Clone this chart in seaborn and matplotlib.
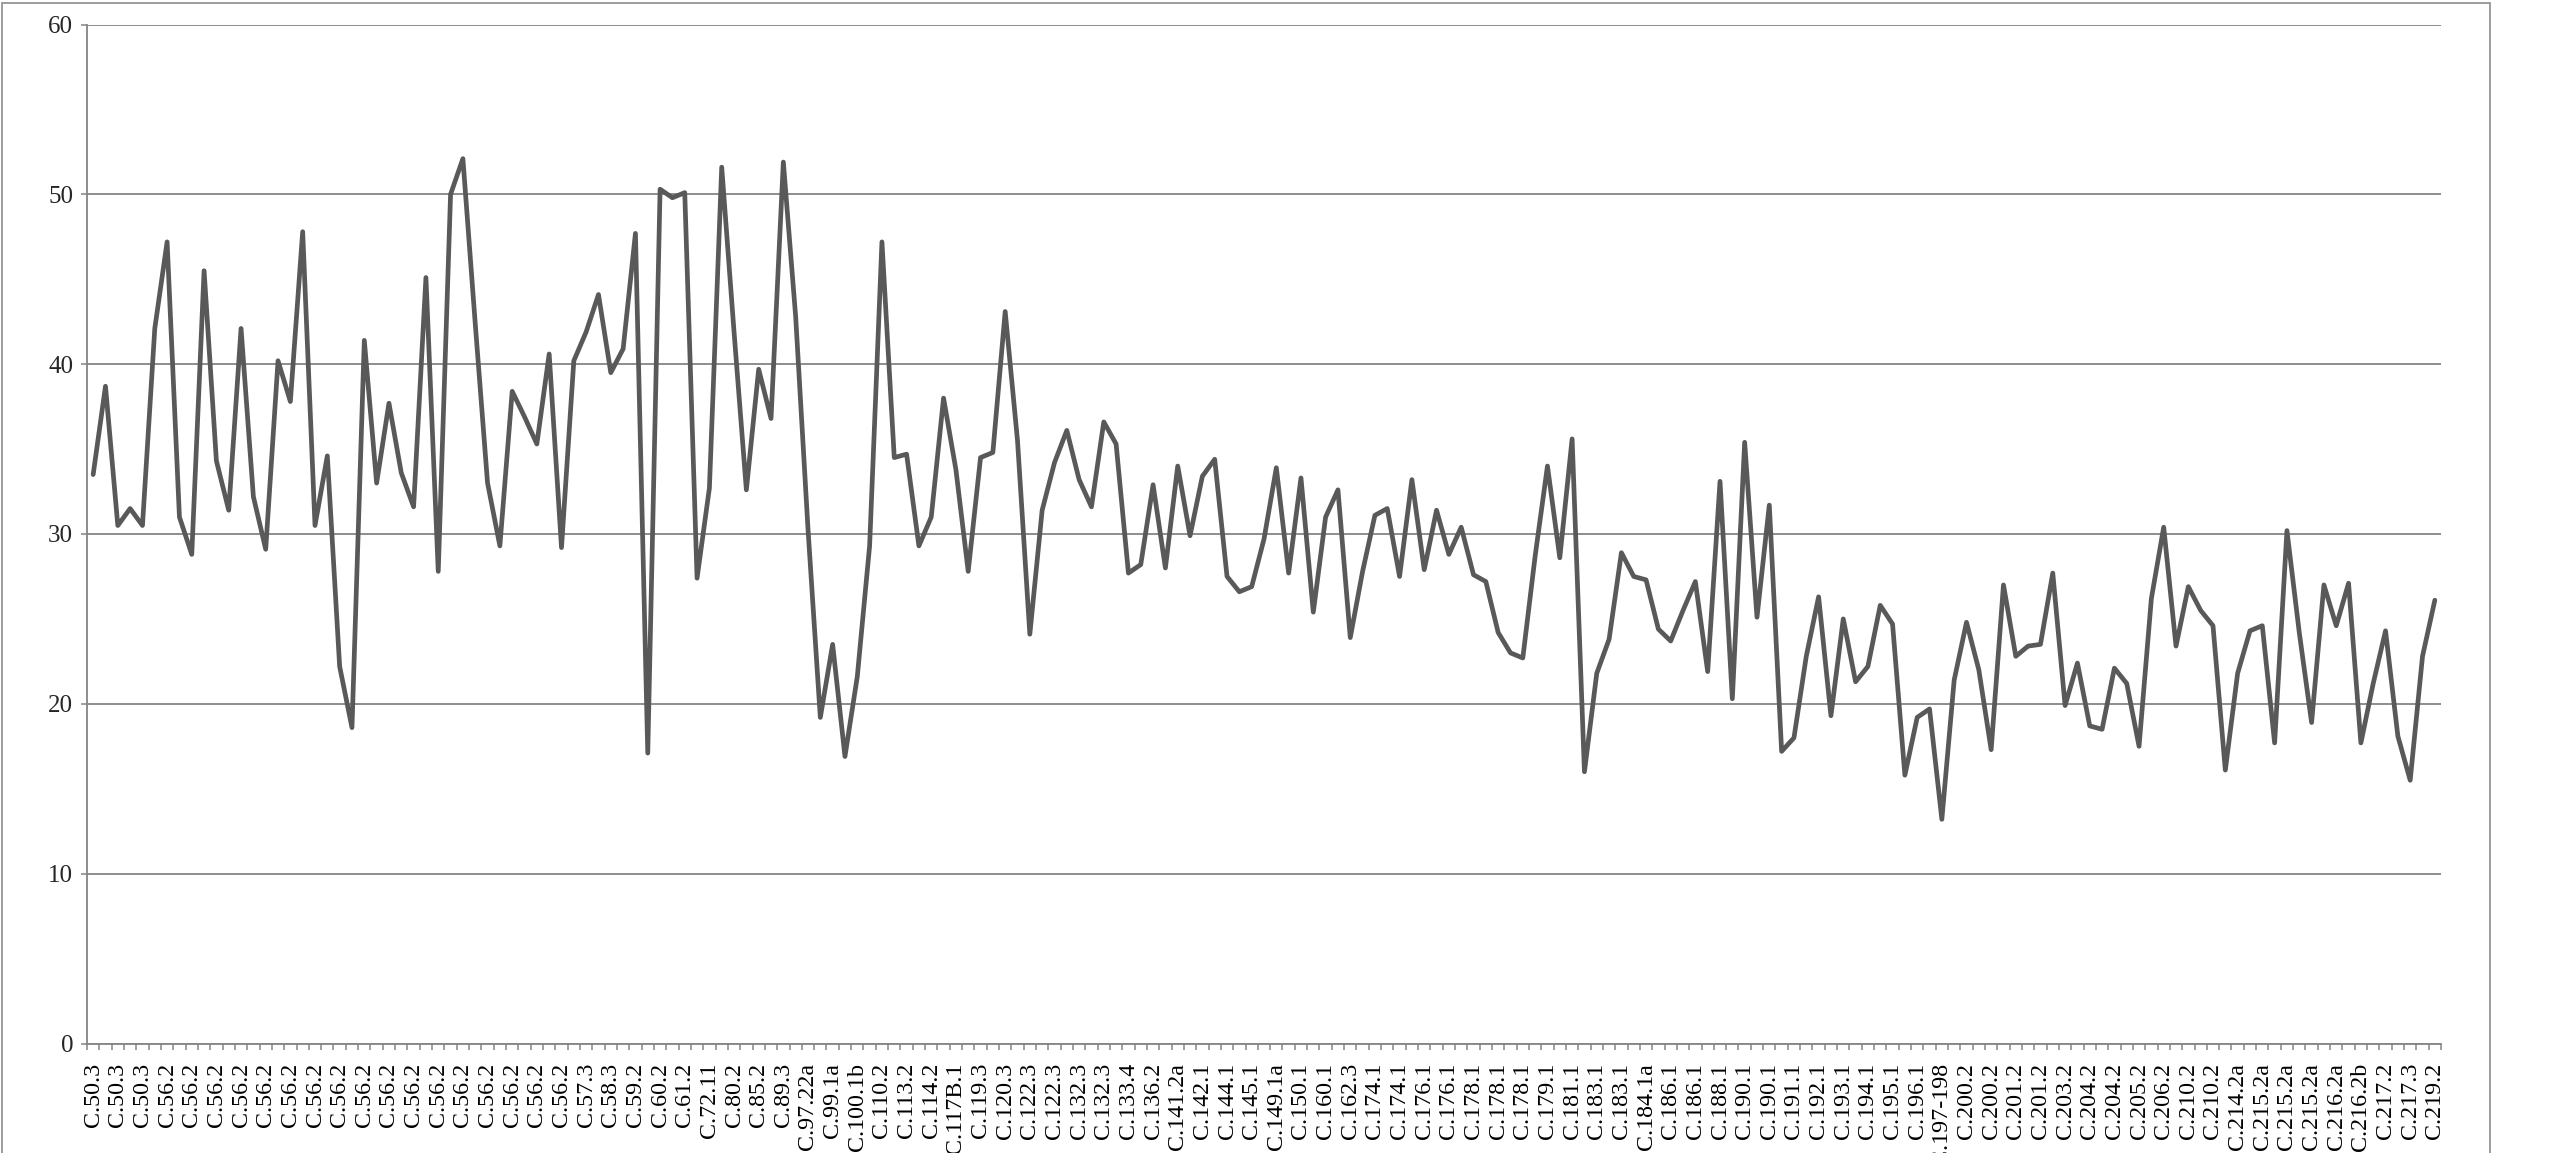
import numpy as np
import pandas as pd
import matplotlib
matplotlib.use("Agg")
import matplotlib.pyplot as plt
import seaborn as sns
from matplotlib.patches import Rectangle

# values, one per category (every 2nd category is labelled)
values = [
    33.5, 38.7, 30.5, 31.5, 30.5, 42.1, 47.2, 31.0, 28.8, 45.5,
    34.3, 31.4, 42.1, 32.2, 29.1, 40.2, 37.8, 47.8, 30.5, 34.6,
    22.2, 18.6, 41.4, 33.0, 37.7, 33.6, 31.6, 45.1, 27.8, 50.0,
    52.1, 42.4, 33.0, 29.3, 38.4, 36.9, 35.3, 40.6, 29.2, 40.2,
    41.9, 44.1, 39.5, 40.9, 47.7, 17.1, 50.3, 49.8, 50.1, 27.4,
    32.7, 51.6, 41.9, 32.6, 39.7, 36.8, 51.9, 42.8, 30.3, 19.2,
    23.5, 16.9, 21.6, 29.3, 47.2, 34.5, 34.7, 29.3, 31.0, 38.0,
    33.8, 27.8, 34.5, 34.8, 43.1, 35.5, 24.1, 31.4, 34.2, 36.1,
    33.2, 31.6, 36.6, 35.3, 27.7, 28.2, 32.9, 28.0, 34.0, 29.9,
    33.4, 34.4, 27.5, 26.6, 26.9, 29.7, 33.9, 27.7, 33.3, 25.4,
    31.0, 32.6, 23.9, 27.8, 31.1, 31.5, 27.5, 33.2, 27.9, 31.4,
    28.8, 30.4, 27.6, 27.2, 24.2, 23.0, 22.7, 28.7, 34.0, 28.6,
    35.6, 16.0, 21.8, 23.8, 28.9, 27.5, 27.3, 24.4, 23.7, 25.5,
    27.2, 21.9, 33.1, 20.3, 35.4, 25.1, 31.7, 17.2, 18.0, 22.8,
    26.3, 19.3, 25.0, 21.3, 22.2, 25.8, 24.7, 15.8, 19.2, 19.7,
    13.2, 21.4, 24.8, 22.0, 17.3, 27.0, 22.8, 23.4, 23.5, 27.7,
    19.9, 22.4, 18.7, 18.5, 22.1, 21.2, 17.5, 26.2, 30.4, 23.4,
    26.9, 25.5, 24.6, 16.1, 21.8, 24.3, 24.6, 17.7, 30.2, 24.2,
    18.9, 27.0, 24.6, 27.1, 17.7, 21.2, 24.3, 18.1, 15.5, 22.8,
    26.1,
]

tick_labels = (
    ["C.50.3"] * 3 + ["C.56.2"] * 17
    + ["C.57.3", "C.58.3", "C.59.2", "C.60.2", "C.61.2",
       "C.72.11", "C.80.2", "C.85.2", "C.89.3", "C.97.22a", "C.99.1a",
       "C.100.1b", "C.110.2", "C.113.2", "C.114.2", "C.117B.1", "C.119.3",
       "C.120.3", "C.122.3", "C.122.3", "C.132.3", "C.132.3", "C.133.4",
       "C.136.2", "C.141.2a", "C.142.1", "C.144.1", "C.145.1", "C.149.1a",
       "C.150.1",
       "C.160.1", "C.162.3", "C.174.1", "C.174.1", "C.176.1", "C.176.1",
       "C.178.1", "C.178.1", "C.178.1", "C.179.1", "C.181.1", "C.183.1",
       "C.183.1", "C.184.1a", "C.186.1", "C.186.1", "C.188.1", "C.190.1",
       "C.190.1", "C.191.1", "C.192.1", "C.193.1", "C.194.1", "C.195.1",
       "C.196.1", "C.197-198",
       "C.200.2", "C.200.2", "C.201.2", "C.201.2", "C.203.2", "C.204.2",
       "C.204.2", "C.205.2", "C.206.2", "C.210.2", "C.210.2", "C.214.2a",
       "C.215.2a", "C.215.2a", "C.215.2a", "C.216.2a", "C.216.2b",
       "C.217.2", "C.217.3", "C.219.2"]
)

y_ticks = [0, 10, 20, 30, 40, 50, 60]

sns.set_style("white")
plt.rcParams["font.family"] = ["Liberation Serif", "DejaVu Serif"]

W, H = 2557, 1153
fig = plt.figure(figsize=(W / 100, H / 100), dpi=100)
ax = fig.add_axes([87 / W, 1 - 1043.5 / H, (2441 - 87) / W, (1043.5 - 24.5) / H])

df = pd.DataFrame({"pos": np.arange(len(values)), "value": values})
sns.lineplot(data=df, x="pos", y="value", ax=ax, color="#595959", linewidth=3.4)

ax.set_xlim(-0.5, len(values) - 0.5)
ax.set_ylim(0, 60)
ax.set_xlabel("")
ax.set_ylabel("")

ax.set_yticks(y_ticks)
ax.set_yticklabels([str(t) for t in y_ticks], fontsize=18)
ax.set_xticks(np.arange(0, len(values), 2))
ax.set_xticklabels(tick_labels, rotation=90, fontsize=17.3, va="top", ha="center")
ax.set_xticks(np.arange(-0.5, len(values)), minor=True)

grey = "#858585"
ax.grid(axis="y", color=grey, linewidth=1.3)
ax.grid(axis="x", visible=False)
ax.set_axisbelow(True)

for s in ["top", "right"]:
    ax.spines[s].set_visible(False)
for s in ["left", "bottom"]:
    ax.spines[s].set_color(grey)
    ax.spines[s].set_linewidth(1.3)

ax.tick_params(axis="x", which="major", length=0, pad=14, colors="black")
ax.tick_params(axis="x", which="minor", length=4, width=1.1, color=grey, bottom=True)
ax.tick_params(axis="y", which="major", length=4, width=1.1, color=grey, left=True, pad=6)

# chart area border
fig.patches.append(Rectangle((0.0008, -0.05), 0.973, 1.047, transform=fig.transFigure,
                             fill=False, edgecolor="#8c8c8c", linewidth=1.2))

fig.savefig("out.png", dpi=100)
